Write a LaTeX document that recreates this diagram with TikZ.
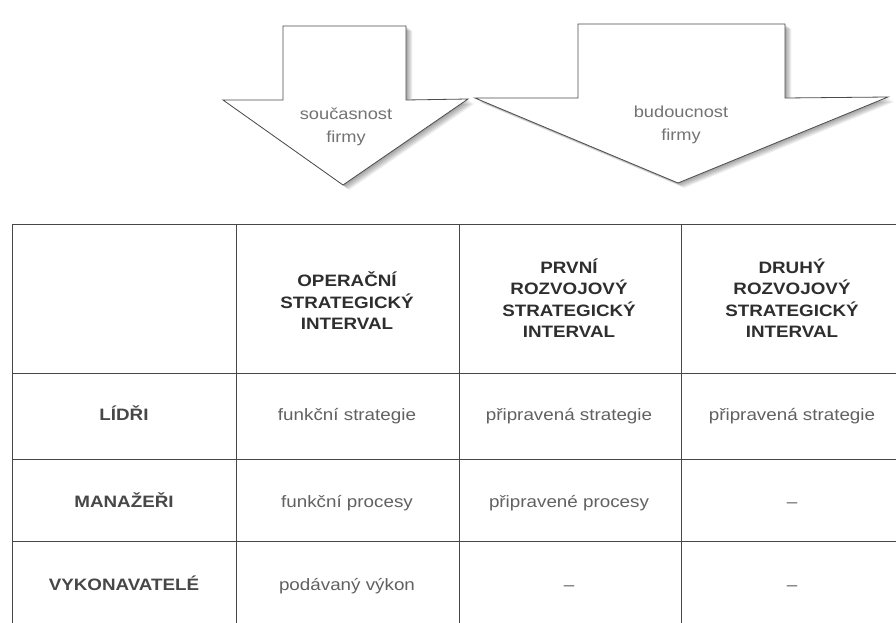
\documentclass[tikz,border=0pt]{standalone}
\usepackage{fontspec}
\setmainfont{Liberation Sans}[FakeStretch=1.14]

% outline of the two downward block arrows
\newcommand{\ArrowNow}[1]{\path[#1] (283,26) -- (406,26) -- (406,100) -- (468,99) -- (343,185) -- (223,100) -- (283,100) -- cycle;}
\newcommand{\ArrowNext}[1]{\path[#1] (578,24) -- (785,24) -- (785,98) -- (888,97) -- (678,183) -- (475,98) -- (578,98) -- cycle;}

\begin{document}
\begin{tikzpicture}[x=1pt,y=-1pt,
  grid/.style={draw=black!72,line width=0.9pt},
  arrowbox/.style={draw=black!70,line width=0.8pt,fill=white,line join=miter},
  arrowshade/.style={fill=black,opacity=0.06},
  arrowtxt/.style={text=black!55,align=center,font=\fontsize{16}{23}\selectfont},
  headtxt/.style={text=black!82,align=center,font=\fontsize{16.5}{21.5}\selectfont\bfseries},
  rowtxt/.style={anchor=base,text=black!72,font=\fontsize{16.5}{20}\selectfont\bfseries},
  celltxt/.style={anchor=base,text=black!62,font=\fontsize{16.5}{20}\selectfont}]

\useasboundingbox[fill=white] (0,0) rectangle (896,623);

% soft shadows behind the arrows
\foreach \d in {1,...,7}{
  \ArrowNow{arrowshade,shift={(\d*0.9,\d*0.7)}}
  \ArrowNext{arrowshade,shift={(\d*0.9,\d*0.7)}}
}
\ArrowNow{arrowbox}
\ArrowNext{arrowbox}

\node[arrowtxt] (now)  at (346,127) {současnost\\firmy};
\node[arrowtxt] (next) at (681,125) {budoucnost\\firmy};

% table grid (runs past the right and bottom edges)
\draw[grid] (12,630) -- (12,224) -- (905,224);
\foreach \yy in {373,459,541} \draw[grid] (12,\yy) -- (905,\yy);
\foreach \xx in {236,459,681} \draw[grid] (\xx,224) -- (\xx,630);

% header row
\node[headtxt] (hop) at (347,301) {OPERAČNÍ\\STRATEGICKÝ\\INTERVAL};
\node[headtxt] (hr1) at (569,298) {PRVNÍ\\ROZVOJOVÝ\\STRATEGICKÝ\\INTERVAL};
\node[headtxt] (hr2) at (792,298) {DRUHÝ\\ROZVOJOVÝ\\STRATEGICKÝ\\INTERVAL};

% rows (placed on their baselines)
\node[rowtxt]  (lid)  at (124,420) {LÍDŘI};
\node[celltxt] (lid1) at (347,420) {funkční strategie};
\node[celltxt] (lid2) at (569,420) {připravená strategie};
\node[celltxt] (lid3) at (792,420) {připravená strategie};

\node[rowtxt]  (man)  at (124,507) {MANAŽEŘI};
\node[celltxt] (man1) at (347,507) {funkční procesy};
\node[celltxt] (man2) at (569,507) {připravené procesy};
\node[celltxt] (man3) at (792,507) {–};

\node[rowtxt]  (vyk)  at (124,590) {VYKONAVATELÉ};
\node[celltxt] (vyk1) at (347,590) {podávaný výkon};
\node[celltxt] (vyk2) at (569,590) {–};
\node[celltxt] (vyk3) at (792,590) {–};
\end{tikzpicture}
\end{document}
